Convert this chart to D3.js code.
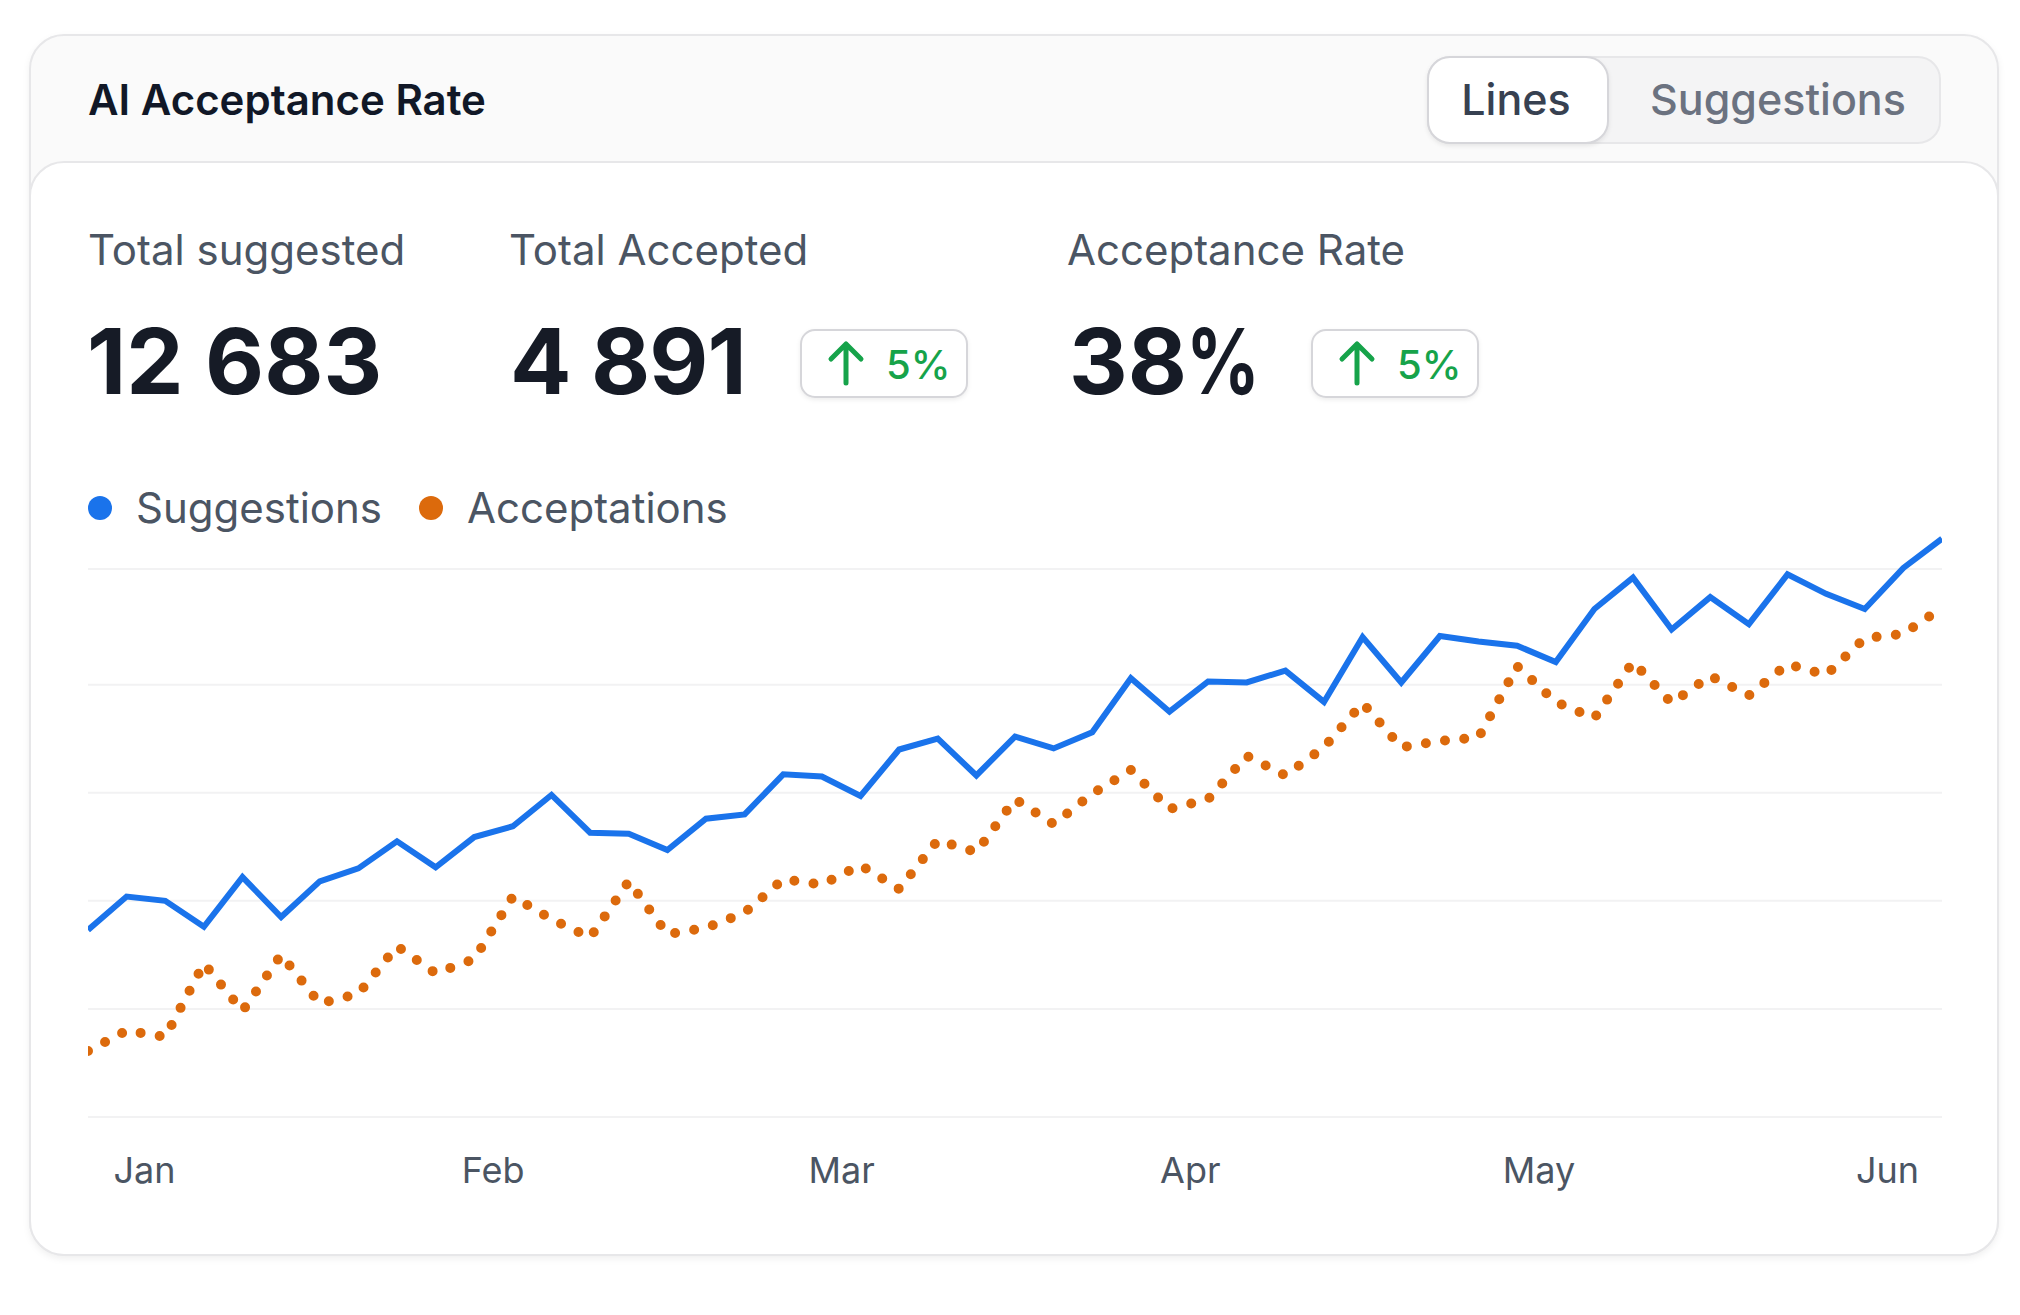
<!DOCTYPE html>
<html>
<head>
<meta charset="utf-8">
<script src="https://cdn.jsdelivr.net/npm/d3@7"></script>
<style>
  html, body { margin: 0; padding: 0; background: #ffffff; }
  svg { display: block; font-family: Inter, "Noto Sans", sans-serif; }
</style>
</head>
<body>
<svg id="chart" width="2020" height="1315"></svg>
<script>
// ---------- data ----------
const title = "AI Acceptance Rate";
const tabs = ["Lines", "Suggestions"];
const statLabels = ["Total suggested", "Total Accepted", "Acceptance Rate"];
const statValues = ["12 683", "4 891", "38"];
const statUnits = ["", "", "%"];
const statDeltas = [null, "5%", "5%"];
const seriesNames = ["Suggestions", "Acceptations"];
const months = ["Jan", "Feb", "Mar", "Apr", "May", "Jun"];
const gridTicks = [0, 100, 200, 300, 400];
const yMax = 507;
const suggestions = [173, 204, 200, 176, 222, 185, 218, 230, 255, 231, 259, 269, 298, 263, 262, 247, 276, 280, 317, 315, 297, 340, 350, 316, 352, 341, 356, 406, 375, 403, 402, 413, 384, 444, 402, 445, 440, 436, 421, 470, 499, 451, 481, 456, 502, 484, 470, 508, 535];
const acceptations = [61, 80, 74, 142, 98, 150, 105, 114, 158, 133, 146, 204, 183, 166, 218, 169, 175, 189, 220, 215, 233, 211, 256, 245, 294, 271, 299, 321, 285, 294, 334, 316, 342, 383, 342, 348, 351, 417, 384, 369, 421, 383, 408, 390, 419, 409, 443, 447, 471];

const BLUE = "#1a73eb";
const ORANGE = "#dc6a0c";
const colors = [BLUE, ORANGE];

const svg = d3.select("#chart");
const defs = svg.append("defs");

// ---------- cards ----------
svg.append("rect")
  .attr("x", 30).attr("y", 35).attr("width", 1968).attr("height", 1220)
  .attr("rx", 34).attr("fill", "#fafafa")
  .attr("stroke", "#e7e7e9").attr("stroke-width", 2)
  .style("filter", "drop-shadow(0px 3px 3px rgba(0,0,0,0.06))");

svg.append("rect")
  .attr("x", 30).attr("y", 162).attr("width", 1968).attr("height", 1093)
  .attr("rx", 34).attr("fill", "#ffffff")
  .attr("stroke", "#e7e7e9").attr("stroke-width", 2);

// ---------- header ----------
svg.append("text")
  .attr("x", 88).attr("y", 115)
  .attr("font-size", 42).attr("font-weight", 600).attr("fill", "#111827")
  .text(title);

// tabs
svg.append("rect")
  .attr("x", 1428).attr("y", 57).attr("width", 512).attr("height", 86)
  .attr("rx", 22).attr("fill", "#f4f4f5")
  .attr("stroke", "#e7e7e9").attr("stroke-width", 2);
svg.append("rect")
  .attr("x", 1428).attr("y", 57).attr("width", 180).attr("height", 86)
  .attr("rx", 22).attr("fill", "#ffffff")
  .attr("stroke", "#d6d6da").attr("stroke-width", 2)
  .style("filter", "drop-shadow(0px 2px 2px rgba(0,0,0,0.08))");
const tabX = [1516, 1778];
svg.selectAll("text.tab").data(tabs).enter().append("text")
  .attr("class", "tab")
  .attr("x", (d, i) => tabX[i]).attr("y", 115)
  .attr("text-anchor", "middle")
  .attr("font-size", 43).attr("font-weight", 500)
  .attr("fill", (d, i) => i === 0 ? "#374151" : "#6b7280")
  .text(d => d);

// ---------- stats ----------
const statX = [88, 509, 1067];
const numX = [87, 510, 1069];
const badgeX = [null, 801, 1312];
statLabels.forEach((lab, i) => {
  svg.append("text")
    .attr("x", statX[i]).attr("y", 265)
    .attr("font-size", 42).attr("font-weight", 400).attr("fill", "#4b5563")
    .text(lab);
  const num = svg.append("text")
    .attr("x", numX[i]).attr("y", 394)
    .attr("font-size", 91).attr("font-weight", 700).attr("fill", "#161b26")
    .attr("letter-spacing", i === 1 ? "-1" : "0")
    .text(statValues[i]);
  if (statUnits[i]) {
    const w = num.node().getComputedTextLength();
    svg.append("text")
      .attr("transform", `translate(${numX[i] + w - 1},394) scale(0.8,1)`)
      .attr("font-size", 91).attr("font-weight", 700).attr("fill", "#161b26")
      .text(statUnits[i]);
  }
  if (statDeltas[i]) {
    const bx = badgeX[i];
    const g = svg.append("g").attr("transform", `translate(${bx},330)`);
    g.append("rect").attr("width", 166).attr("height", 67).attr("rx", 14)
      .attr("fill", "#ffffff").attr("stroke", "#d6d6da").attr("stroke-width", 2)
      .style("filter", "drop-shadow(0px 2px 2px rgba(0,0,0,0.07))");
    const ax = 45;
    g.append("path")
      .attr("d", `M${ax},53 L${ax},14 M${ax - 15},29 L${ax},14 L${ax + 15},29`)
      .attr("fill", "none").attr("stroke", "#16a34a").attr("stroke-width", 5)
      .attr("stroke-linecap", "round").attr("stroke-linejoin", "round");
    g.append("text").attr("x", 85).attr("y", 49)
      .attr("font-size", 40).attr("font-weight", 500).attr("fill", "#16a34a")
      .text(statDeltas[i]);
  }
});

// ---------- legend ----------
const legX = [100, 431];
seriesNames.forEach((s, i) => {
  svg.append("circle").attr("cx", legX[i]).attr("cy", 508).attr("r", 12).attr("fill", colors[i]);
  svg.append("text").attr("x", legX[i] + 36).attr("y", 523)
    .attr("font-size", 42).attr("fill", "#4b5563").text(s);
});

// ---------- chart ----------
const x = d3.scaleLinear().domain([0, suggestions.length - 1]).range([88, 1942]);
const y = d3.scaleLinear().domain([0, yMax]).range([1117, 569]);

// grid
svg.append("g").selectAll("line").data(gridTicks.concat([yMax])).enter().append("line")
  .attr("x1", 88).attr("x2", 1942)
  .attr("y1", d => y(d)).attr("y2", d => y(d))
  .attr("stroke", "#f2f2f3").attr("stroke-width", 2);

defs.append("clipPath").attr("id", "plotclip")
  .append("rect").attr("x", 88).attr("y", 480).attr("width", 1854).attr("height", 700);

const line = d3.line().x((d, i) => x(i)).y(d => y(d));
const plot = svg.append("g").attr("clip-path", "url(#plotclip)");

plot.append("path").datum(acceptations)
  .attr("d", line).attr("fill", "none")
  .attr("stroke", ORANGE).attr("stroke-width", 10)
  .attr("stroke-linecap", "round")
  .attr("stroke-dasharray", "0 19.31");

plot.append("path").datum(suggestions)
  .attr("d", line).attr("fill", "none")
  .attr("stroke", BLUE).attr("stroke-width", 6)
  .attr("stroke-linejoin", "miter");

// x axis
const xm = d3.scalePoint().domain(months).range([144, 1887]);
const ax = svg.append("g").attr("transform", "translate(0,1117)")
  .call(d3.axisBottom(xm).tickSize(0).tickPadding(40));
ax.select(".domain").remove();
ax.selectAll("text")
  .attr("font-family", "Inter, 'Noto Sans', sans-serif")
  .attr("font-size", 36).attr("fill", "#4b5563");
</script>
</body>
</html>
